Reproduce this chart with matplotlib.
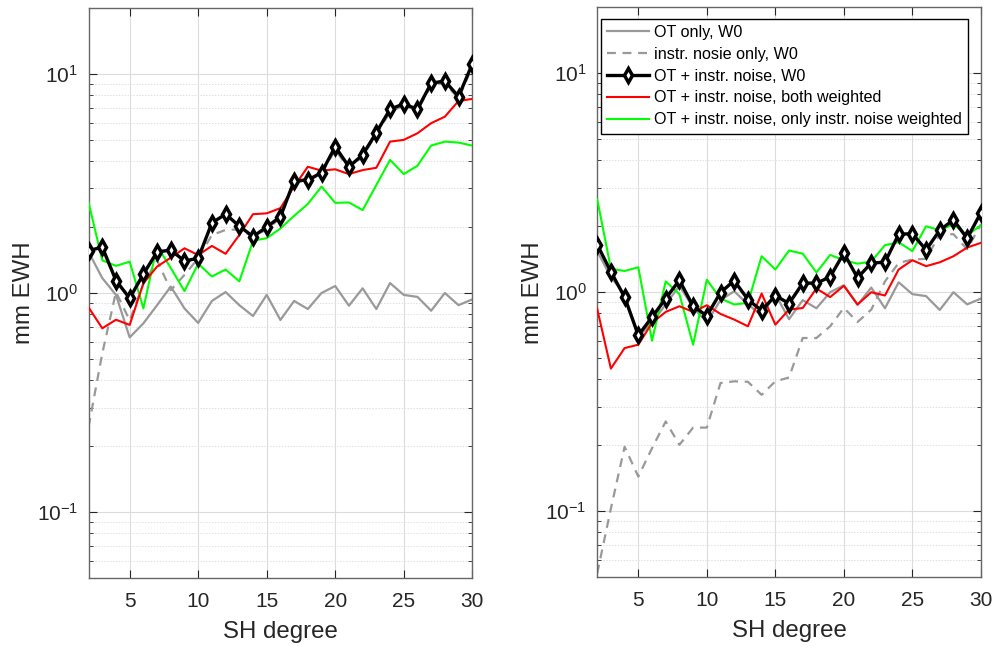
import numpy as np
import matplotlib
matplotlib.use("Agg")
import matplotlib.pyplot as plt
from matplotlib.ticker import LogLocator, NullFormatter

plt.rcParams["font.family"] = ["Liberation Sans", "DejaVu Sans"]
plt.rcParams["mathtext.fontset"] = "custom"
plt.rcParams["mathtext.rm"] = "Liberation Sans"
plt.rcParams["axes.unicode_minus"] = False

# SH degrees
deg = np.arange(2, 31)

# OT only, W0 (same in both panels)
ot_only = [1.54, 1.17, 0.98, 0.627, 0.727, 0.88, 1.07, 0.85, 0.73, 0.92, 1.01, 0.88, 0.785,
           0.98, 0.753, 0.92, 0.845, 1.0, 1.076, 0.875, 1.05, 0.845, 1.11, 0.98, 0.96,
           0.83, 1.0, 0.88, 0.935]

# left panel
noise_l = [0.245, 0.53, 1.01, 0.75, 1.1, 1.41, 1.03, 1.21, 1.44, 1.84, 1.94, 1.95, 1.81,
           1.95, 2.2, 3.2, 3.25, 3.5, 4.5, 3.7, 4.2, 5.3, 6.7, 7.2, 6.8, 8.9, 9.1, 7.7, 10.8]
both_l = [1.56, 1.62, 1.14, 0.946, 1.22, 1.54, 1.57, 1.40, 1.44, 2.09, 2.29, 2.02, 1.81,
          2.00, 2.23, 3.25, 3.28, 3.54, 4.66, 3.77, 4.27, 5.40, 6.90, 7.30, 6.90, 9.07,
          9.29, 7.88, 11.1]
w_both_l = [0.86, 0.69, 0.755, 0.715, 1.107, 1.32, 1.45, 1.60, 1.49, 1.64, 1.51, 1.84, 2.29,
            2.31, 2.44, 3.06, 3.77, 3.62, 3.67, 3.49, 3.64, 3.73, 4.91, 5.0, 5.36, 5.96,
            6.38, 7.53, 7.69]
w_noise_l = [2.59, 1.41, 1.33, 1.39, 0.85, 1.64, 1.30, 1.02, 1.36, 1.19, 1.28, 1.13, 1.73,
             1.78, 1.97, 2.25, 2.55, 3.06, 2.58, 2.59, 2.39, 3.11, 4.05, 3.49, 3.81, 4.71,
             4.91, 4.86, 4.71]

# right panel
noise_r = [0.052, 0.103, 0.197, 0.144, 0.194, 0.257, 0.201, 0.241, 0.241, 0.385, 0.392,
           0.39, 0.34, 0.392, 0.408, 0.618, 0.618, 0.699, 0.848, 0.731, 0.833, 1.12, 1.36,
           1.41, 1.42, 1.84, 1.84, 1.57, 2.04]
both_r = [1.65, 1.24, 0.95, 0.636, 0.769, 0.936, 1.135, 0.863, 0.78, 0.997, 1.13, 0.926,
          0.824, 0.966, 0.888, 1.10, 1.10, 1.175, 1.51, 1.163, 1.36, 1.37, 1.84, 1.85,
          1.56, 1.92, 2.14, 1.76, 2.31]
w_both_r = [0.84, 0.448, 0.556, 0.576, 0.724, 0.813, 0.863, 0.813, 0.872, 0.796, 0.75,
            0.699, 0.986, 0.711, 0.833, 0.847, 1.04, 0.95, 1.07, 0.879, 1.0, 0.966, 1.27,
            1.40, 1.315, 1.37, 1.46, 1.60, 1.68]
w_noise_r = [2.66, 1.28, 1.25, 1.30, 0.601, 1.12, 0.98, 0.576, 1.14, 0.936, 0.879, 0.894,
             1.46, 1.27, 1.55, 1.50, 1.23, 1.48, 1.40, 1.35, 1.38, 1.64, 1.69, 1.54, 2.00,
             1.92, 2.04, 1.82, 2.02]

labels = ["OT only, W0", "instr. nosie only, W0", "OT + instr. noise, W0",
          "OT + instr. noise, both weighted",
          "OT + instr. noise, only instr. noise weighted"]

axc = "#262626"
fig = plt.figure(figsize=(9.94, 6.46), dpi=100)
ax1 = fig.add_axes([0.0891, 0.1053, 0.386, 0.8823])
ax2 = fig.add_axes([0.6008, 0.1065, 0.386, 0.8823])


def draw(ax, noise, both, w_both, w_noise):
    ax.plot(deg, ot_only, color="#999999", lw=1.6, label=labels[0])
    ax.plot(deg, noise, color="#999999", lw=1.6, ls=(0, (4, 3)), label=labels[1])
    ax.plot(deg, both, color="black", lw=2.4, marker="d", ms=7, mfc="white", mew=2.5,
            label=labels[2], zorder=5)
    ax.plot(deg, w_both, color="#ff0000", lw=1.5, label=labels[3], zorder=4)
    ax.plot(deg, w_noise, color="#00ff00", lw=1.5, label=labels[4], zorder=3)

    ax.set_yscale("log")
    ax.set_xlim(2, 30)
    ax.set_ylim(0.05, 20)
    ax.set_xticks([5, 10, 15, 20, 25, 30])
    ax.yaxis.set_major_locator(LogLocator(base=10, numticks=10))
    ax.yaxis.set_minor_locator(LogLocator(base=10, subs=np.arange(2, 10), numticks=10))
    ax.yaxis.set_minor_formatter(NullFormatter())
    ax.grid(True, which="major", color="#dcdcdc", lw=0.8)
    ax.grid(True, which="minor", axis="y", color="#e0e0e0", lw=0.7, ls=(0, (1.5, 1.5)))
    ax.set_axisbelow(True)
    ax.tick_params(which="both", direction="in", top=True, right=True, colors=axc,
                   labelsize=15, labelcolor=axc)
    ax.tick_params(which="major", length=6)
    ax.tick_params(which="minor", length=3)
    ax.tick_params(axis="x", pad=10)
    ax.tick_params(axis="y", pad=7.5)
    for s in ax.spines.values():
        s.set_color("#666666")
        s.set_linewidth(1.0)
    ax.set_xlabel("SH degree", fontsize=17.3, color=axc, labelpad=7)
    ax.set_ylabel("mm EWH", fontsize=17.3, color=axc, labelpad=1)


draw(ax1, noise_l, both_l, w_both_l, w_noise_l)
draw(ax2, noise_r, both_r, w_both_r, w_noise_r)

leg = ax2.legend(loc="upper left", bbox_to_anchor=(0.009, 0.980), borderaxespad=0,
                 fontsize=11.6, handlelength=2.6, handletextpad=0.3, labelspacing=0.42,
                 fancybox=False, framealpha=1, edgecolor="black", borderpad=0.4)
leg.get_frame().set_linewidth(1.0)

fig.savefig("out.png", dpi=100)
